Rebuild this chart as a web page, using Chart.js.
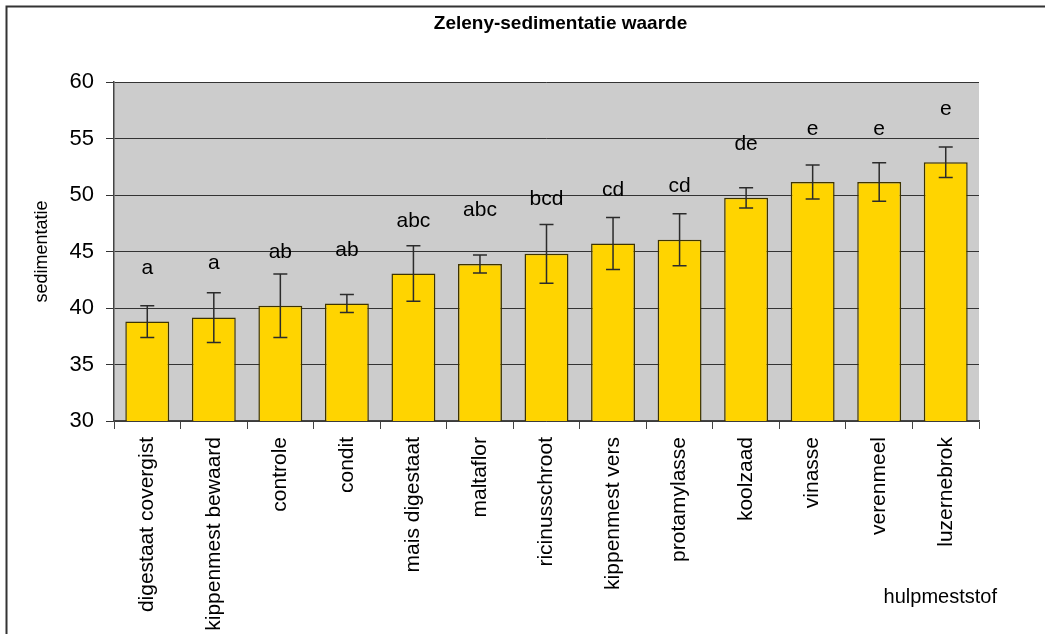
<!DOCTYPE html>
<html>
<head>
<meta charset="utf-8">
<script src="https://cdn.jsdelivr.net/npm/chart.js@4"></script>
<style>
  html, body { margin: 0; padding: 0; background: #fff; }
  #wrap { width: 1045px; height: 634px; position: relative; }
</style>
</head>
<body>
<div id="wrap"><canvas id="chart" width="1045" height="634"></canvas></div>
<script>
// Zeleny-sedimentatie per hulpmeststof
const categories = [
    'digestaat covergist', 'kippenmest bewaard', 'controle', 'condit',
    'mais digestaat', 'maltaflor', 'ricinusschroot', 'kippenmest vers',
    'protamylasse', 'koolzaad', 'vinasse', 'verenmeel', 'luzernebrok',
];
const means = [38.8, 39.15, 40.2, 40.4, 43.05, 43.9, 44.8, 45.7, 46.05, 49.75, 51.15, 51.15, 52.9];
const errors = [1.4, 2.2, 2.8, 0.8, 2.45, 0.8, 2.6, 2.3, 2.3, 0.9, 1.5, 1.7, 1.35];
const letters = ['a', 'a', 'ab', 'ab', 'abc', 'abc', 'bcd', 'cd', 'cd', 'de', 'e', 'e', 'e'];
const letterLevels = [43.5, 43.95, 44.9, 45.1, 47.7, 48.65, 49.6, 50.4, 50.75, 54.5, 55.8, 55.8, 57.6];
const yTicks = [30, 35, 40, 45, 50, 55, 60];

const FONT = "'Liberation Sans', Arial, sans-serif";

const plotBg = {
    id: 'plotBg',
    beforeDraw(chart) {
        const { ctx, chartArea: a } = chart;
        ctx.save();
        ctx.fillStyle = '#cccccc';
        ctx.fillRect(a.left, a.top, a.right - a.left, a.bottom - a.top);
        // outer frame (top + left only visible)
        ctx.strokeStyle = '#333';
        ctx.lineWidth = 2;
        ctx.beginPath();
        ctx.moveTo(1045, 6.5);
        ctx.lineTo(6.5, 6.5);
        ctx.lineTo(6.5, 634);
        ctx.stroke();
        // chart title
        ctx.fillStyle = '#000';
        ctx.font = `bold 19px ${FONT}`;
        ctx.textAlign = 'center';
        ctx.textBaseline = 'middle';
        ctx.fillText('Zeleny-sedimentatie waarde', (a.left + a.right) / 2 + 14, 24);
        ctx.restore();
    },
};

const errorBars = {
    id: 'errorBars',
    afterDatasetsDraw(chart) {
        const { ctx, scales: { x, y } } = chart;
        ctx.save();
        ctx.strokeStyle = '#2b2b2b';
        ctx.lineWidth = 1.5;
        means.forEach((m, i) => {
            const cx = x.getPixelForValue(i);
            const yt = y.getPixelForValue(m + errors[i]);
            const yb = y.getPixelForValue(m - errors[i]);
            ctx.beginPath();
            ctx.moveTo(cx, yt); ctx.lineTo(cx, yb);
            ctx.moveTo(cx - 7, yt); ctx.lineTo(cx + 7, yt);
            ctx.moveTo(cx - 7, yb); ctx.lineTo(cx + 7, yb);
            ctx.stroke();
        });
        // significance letters
        ctx.fillStyle = '#000';
        ctx.font = `21px ${FONT}`;
        ctx.textAlign = 'center';
        ctx.textBaseline = 'middle';
        letters.forEach((t, i) => {
            ctx.fillText(t, x.getPixelForValue(i), y.getPixelForValue(letterLevels[i]));
        });
        // x axis title
        ctx.font = `20px ${FONT}`;
        ctx.textAlign = 'right';
        ctx.fillText('hulpmeststof', x.right + 18, 597);
        ctx.restore();
    },
};

new Chart(document.getElementById('chart'), {
    type: 'bar',
    data: {
        labels: categories,
        datasets: [{
            data: means,
            backgroundColor: '#ffd400',
            borderColor: '#3d3300',
            borderWidth: 1.5,
            categoryPercentage: 1,
            barPercentage: 0.66,
        }],
    },
    options: {
        responsive: false,
        animation: false,
        layout: { padding: { left: 0, right: 66, top: 82, bottom: 0 } },
        plugins: {
            legend: { display: false },
            tooltip: { enabled: false },
            title: { display: false },
        },
        scales: {
            x: {
                grid: {
                    offset: true,
                    drawOnChartArea: false,
                    color: '#444',
                    tickLength: 8,
                },
                border: { color: '#444', width: 1.5 },
                ticks: {
                    color: '#000',
                    font: { family: FONT, size: 21 },
                    minRotation: 90,
                    maxRotation: 90,
                    autoSkip: false,
                    padding: 8,
                },
                afterFit: s => { s.height = 213; },
            },
            y: {
                min: 30,
                max: 60,
                afterBuildTicks: s => { s.ticks = yTicks.map(v => ({ value: v })); },
                grid: { color: '#333', tickLength: 8, lineWidth: 1 },
                border: { color: '#444', width: 1.5 },
                ticks: {
                    color: '#000',
                    font: { family: FONT, size: 22 },
                    padding: 12,
                },
                title: {
                    display: true,
                    text: 'sedimentatie',
                    color: '#000',
                    font: { family: FONT, size: 18 },
                    padding: { top: 31, bottom: 0 },
                },
                afterFit: s => { s.width = 114; },
            },
        },
    },
    plugins: [plotBg, errorBars],
});
</script>
</body>
</html>
